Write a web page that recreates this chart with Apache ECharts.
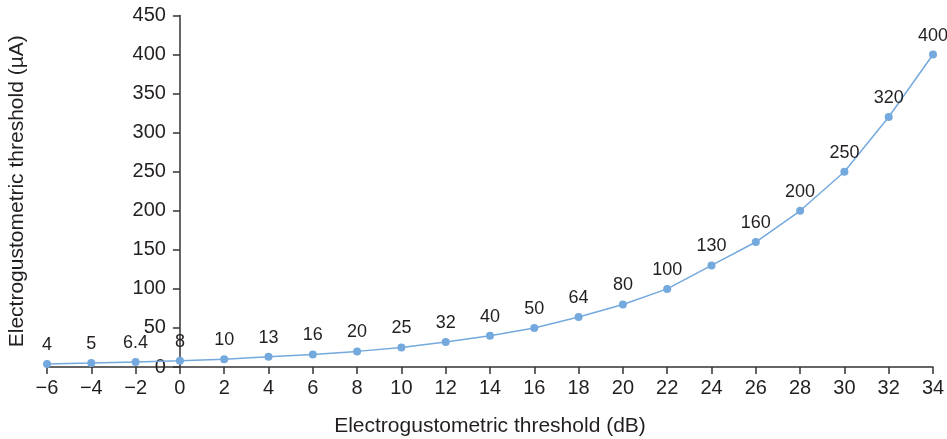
<!DOCTYPE html>
<html><head><meta charset="utf-8">
<script src="https://cdn.jsdelivr.net/npm/echarts@6/dist/echarts.min.js"></script>
<style>html,body{margin:0;padding:0;background:#fff}#c{width:947px;height:439px}</style>
</head><body><div id="c"></div>
<script>
const xValues = [-6,-4,-2,0,2,4,6,8,10,12,14,16,18,20,22,24,26,28,30,32,34];
const yValues = [4,5,6.4,8,10,13,16,20,25,32,40,50,64,80,100,130,160,200,250,320,400];
const pointLabels = ['4','5','6.4','8','10','13','16','20','25','32','40','50','64','80','100','130','160','200','250','320','400'];
const xName = 'Electrogustometric threshold (dB)';
const yName = 'Electrogustometric threshold (\u00b5A)';

const chart = echarts.init(document.getElementById('c'));
const font = 'Liberation Sans, Arial, sans-serif';
const gridLeft = 47, gridRight = 14;
const plotW = 947 - gridLeft - gridRight;
// place the y axis where x = 0 sits on the x scale
const yAxisOffset = -plotW * (0 - xValues[0]) / (xValues[xValues.length - 1] - xValues[0]);
chart.setOption({
  animation: false,
  grid: {left: gridLeft, right: gridRight, top: 15.5, bottom: 72, containLabel: false, outerBoundsMode: 'none'},
  xAxis: {
    type: 'value', min: -6, max: 34, interval: 2,
    name: xName, nameLocation: 'middle', nameGap: 49,
    nameTextStyle: {fontFamily: font, fontSize: 21, color: '#231f20'},
    axisLine: {lineStyle: {color: '#333', width: 1.5}},
    axisTick: {length: 7, lineStyle: {color: '#333', width: 1.5}},
    axisLabel: {fontFamily: font, fontSize: 20, color: '#231f20', margin: 11,
      formatter: v => v < 0 ? '\u2212' + Math.abs(v) : String(v)},
    splitLine: {show: false}
  },
  yAxis: {
    type: 'value', min: 0, max: 450, interval: 50,
    offset: yAxisOffset,
    name: yName, nameLocation: 'middle', nameGap: 152,
    nameTextStyle: {fontFamily: font, fontSize: 21, color: '#231f20'},
    axisLine: {onZero: false, lineStyle: {color: '#333', width: 1.5}},
    axisTick: {show: true, length: 7, lineStyle: {color: '#333', width: 1.5}},
    axisLabel: {fontFamily: font, fontSize: 20, color: '#231f20', margin: 14},
    splitLine: {show: false}
  },
  series: [{
    type: 'line',
    data: xValues.map((x, i) => [x, yValues[i]]),
    symbol: 'circle', symbolSize: 8,
    itemStyle: {color: '#74a9de'},
    lineStyle: {color: '#74a9de', width: 1.5},
    label: {show: true, position: 'top', distance: 6, fontFamily: font, fontSize: 18, color: '#231f20',
      formatter: p => pointLabels[p.dataIndex]}
  }]
});
</script></body></html>
